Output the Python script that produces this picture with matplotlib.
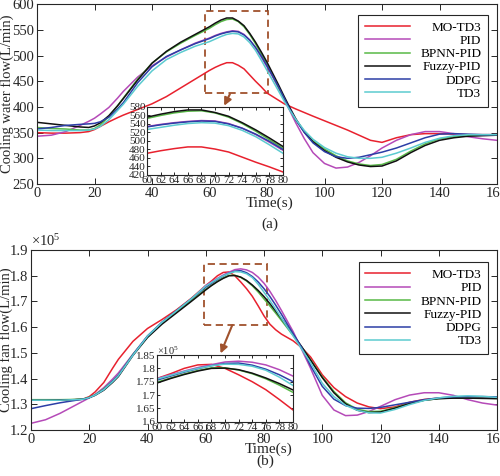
import numpy as np
import matplotlib.pyplot as plt
from matplotlib.patches import Rectangle
from matplotlib.ticker import MultipleLocator, FormatStrFormatter, FuncFormatter

plt.rcParams['font.family'] = ['Liberation Serif', 'DejaVu Serif']
plt.rcParams['mathtext.fontset'] = 'custom'
plt.rcParams['mathtext.rm'] = 'Liberation Serif'
plt.rcParams['mathtext.it'] = 'Liberation Serif:italic'

# time axis (s)
time = [0, 5, 10, 15, 18, 20, 22, 25, 28, 30, 35, 40, 45, 50, 55, 60, 62, 64, 66, 68,
        70, 72, 74, 76, 78, 80, 82, 84, 86, 88, 90, 93, 96, 100, 104, 108, 112, 116, 120,
        125, 130, 135, 140, 145, 150, 155, 160]

labels = ['MO-TD3', 'PID', 'BPNN-PID', 'Fuzzy-PID', 'DDPG', 'TD3']
colors = ['#e8212e', '#b54ab8', '#58b947', '#111111', '#2c3ea6', '#5ccbd0']

# (a) cooling water flow, L/min
water_mo_td3 = [350, 349, 349, 350, 352, 356, 362, 371, 379, 384, 395, 406, 420, 437, 454, 471, 477, 482, 486, 486,
                481, 474, 462, 450, 439, 427, 420, 413, 406, 401, 396, 389, 382, 373, 364, 355, 345, 335, 331,
                340, 346, 348, 348, 347, 346, 346, 346]
water_pid = [343, 345, 352, 364, 372, 378, 386, 399, 417, 430, 458, 480, 497, 511, 524, 534, 539, 543, 546, 548,
             547, 541, 530, 515, 497, 478, 458, 437, 414, 392, 369, 338, 311, 290, 281, 283, 292, 305, 320,
             335, 346, 352, 352, 348, 342, 338, 335]
water_bpnn = [360, 358, 357, 355, 355, 358, 365, 381, 402, 417, 454, 485, 507, 524, 539, 553, 560, 566, 570, 571,
              566, 556, 541, 523, 503, 483, 461, 438, 415, 394, 375, 352, 334, 318, 305, 295, 289, 286, 288,
              298, 314, 328, 338, 342, 344, 345, 345]
water_fuzzy = [370, 367, 364, 361, 360, 363, 369, 383, 402, 416, 452, 485, 508, 526, 541, 556, 563, 569, 573, 573,
               567, 558, 543, 526, 507, 487, 465, 443, 420, 398, 377, 351, 332, 315, 302, 293, 287, 284, 285,
               295, 311, 325, 335, 340, 343, 344, 345]
water_ddpg = [357, 360, 364, 366, 367, 368, 371, 380, 396, 408, 447, 478, 498, 511, 523, 533, 538, 542, 545, 547,
              546, 540, 530, 516, 499, 480, 460, 439, 417, 395, 375, 350, 330, 313, 303, 300, 302, 307, 312,
              320, 330, 340, 347, 348, 347, 346, 346]
water_td3 = [355, 354, 354, 354, 355, 357, 362, 375, 393, 405, 440, 470, 492, 506, 518, 527, 532, 537, 541, 543,
             542, 536, 525, 510, 491, 471, 451, 431, 411, 393, 376, 354, 337, 321, 310, 303, 300, 300, 302,
             310, 320, 331, 339, 344, 346, 346, 346]

# (b) cooling fan flow, x1e5 L/min
fan_mo_td3 = [1.316, 1.316, 1.316, 1.318, 1.321, 1.330, 1.348, 1.385, 1.440, 1.475, 1.545, 1.595, 1.630, 1.668,
              1.712, 1.762, 1.780, 1.800, 1.813, 1.815, 1.800, 1.776, 1.750, 1.720, 1.683, 1.644, 1.612, 1.590,
              1.573, 1.560, 1.547, 1.520, 1.484, 1.415, 1.365, 1.330, 1.305, 1.290, 1.283, 1.290, 1.308, 1.319,
              1.324, 1.325, 1.325, 1.325, 1.324]
fan_pid = [1.226, 1.240, 1.265, 1.295, 1.313, 1.325, 1.338, 1.365, 1.398, 1.422, 1.495, 1.565, 1.617, 1.662,
           1.708, 1.762, 1.776, 1.790, 1.803, 1.814, 1.824, 1.827, 1.823, 1.813, 1.795, 1.771, 1.740, 1.704,
           1.665, 1.624, 1.583, 1.512, 1.440, 1.335, 1.278, 1.256, 1.258, 1.272, 1.292, 1.318, 1.336, 1.345,
           1.345, 1.335, 1.318, 1.305, 1.297]
fan_bpnn = [1.318, 1.318, 1.318, 1.319, 1.321, 1.327, 1.337, 1.360, 1.390, 1.413, 1.494, 1.562, 1.616, 1.660,
            1.704, 1.748, 1.764, 1.779, 1.792, 1.802, 1.802, 1.794, 1.780, 1.761, 1.737, 1.710, 1.683, 1.655,
            1.626, 1.597, 1.568, 1.522, 1.473, 1.407, 1.350, 1.306, 1.281, 1.272, 1.273, 1.287, 1.304, 1.316,
            1.322, 1.325, 1.325, 1.324, 1.323]
fan_fuzzy = [1.316, 1.316, 1.317, 1.318, 1.320, 1.326, 1.335, 1.355, 1.385, 1.408, 1.490, 1.560, 1.612, 1.656,
             1.700, 1.745, 1.762, 1.777, 1.790, 1.800, 1.801, 1.795, 1.782, 1.764, 1.743, 1.719, 1.692, 1.663,
             1.633, 1.602, 1.571, 1.523, 1.472, 1.404, 1.345, 1.302, 1.277, 1.268, 1.270, 1.285, 1.303, 1.316,
             1.322, 1.324, 1.324, 1.323, 1.322]
fan_ddpg = [1.283, 1.295, 1.306, 1.315, 1.320, 1.326, 1.336, 1.358, 1.390, 1.413, 1.493, 1.566, 1.620, 1.665,
            1.710, 1.756, 1.771, 1.786, 1.799, 1.810, 1.818, 1.820, 1.812, 1.797, 1.776, 1.750, 1.720, 1.686,
            1.650, 1.612, 1.575, 1.520, 1.450, 1.370, 1.320, 1.295, 1.285, 1.284, 1.288, 1.298, 1.308, 1.318,
            1.325, 1.329, 1.330, 1.330, 1.329]
fan_td3 = [1.316, 1.316, 1.316, 1.318, 1.320, 1.326, 1.336, 1.357, 1.388, 1.411, 1.491, 1.565, 1.619, 1.664,
           1.710, 1.760, 1.774, 1.788, 1.800, 1.810, 1.816, 1.815, 1.808, 1.793, 1.767, 1.736, 1.704, 1.670,
           1.635, 1.600, 1.566, 1.514, 1.462, 1.382, 1.330, 1.296, 1.277, 1.267, 1.266, 1.280, 1.299, 1.315,
           1.325, 1.331, 1.333, 1.331, 1.327]

water = [water_mo_td3, water_pid, water_bpnn, water_fuzzy, water_ddpg, water_td3]
fan = [fan_mo_td3, fan_pid, fan_bpnn, fan_fuzzy, fan_ddpg, fan_td3]

INK = '#262626'
BROWN = '#a0522d'


def style_axes(ax, size, length=4, pad=2):
    for sp in ax.spines.values():
        sp.set_color(INK)
        sp.set_linewidth(0.8)
    ax.tick_params(direction='in', top=True, right=True, length=length, width=0.7,
                   colors=INK, labelsize=size, pad=pad)


def draw_lines(ax, series, lw=1.1):
    for y, lab, c in zip(series, labels, colors):
        ax.plot(time, y, color=c, lw=lw, label=lab)


def right_align_legend(fig, leg):
    # MATLAB-like legend: labels flush right
    renderer = fig.canvas.get_renderer()
    texts = leg.get_texts()
    widths = [t.get_window_extent(renderer).width for t in texts]
    for t, w in zip(texts, widths):
        t.set_position((max(widths) - w, 0))


fig = plt.figure(figsize=(5.0, 4.76), dpi=100)
ax_a = fig.add_axes([0.074, 0.6134, 0.92, 0.378])
ax_b = fig.add_axes([0.062, 0.0966, 0.932, 0.378])

# ---- (a) ----
draw_lines(ax_a, water)
ax_a.set_xlim(0, 160)
ax_a.set_ylim(250, 600)
ax_a.xaxis.set_major_locator(MultipleLocator(20))
ax_a.yaxis.set_major_locator(MultipleLocator(50))
style_axes(ax_a, 10.5)
ax_a.set_xlabel('Time(s)', fontsize=11, color=INK, va='top')
ax_a.xaxis.set_label_coords(0.505, -0.072)
ax_a.set_ylabel('Cooling water flow(L/min)', fontsize=10.5, color=INK)
ax_a.yaxis.set_label_coords(-0.05, 0.5)
ax_a.add_patch(Rectangle((58.4, 427), 21.8, 159, fill=False, ec=BROWN, lw=1.3, ls=(0, (4, 2.5))))
ax_a.annotate('', xy=(65.1, 402.3), xytext=(67.1, 425),
              arrowprops=dict(arrowstyle='-|>', color=BROWN, lw=1.5, mutation_scale=11,
                              shrinkA=0, shrinkB=0))
leg_a = ax_a.legend(loc='upper right', bbox_to_anchor=(0.98, 0.941), borderaxespad=0,
                    fontsize=9.5, handlelength=3.4, handletextpad=0.8, labelspacing=0.08,
                    borderpad=0.5, fancybox=False, framealpha=1, edgecolor=INK)
leg_a.get_frame().set_linewidth(0.8)
right_align_legend(fig, leg_a)

in_a = fig.add_axes([0.294, 0.6324, 0.272, 0.1429])
draw_lines(in_a, water)
in_a.set_xlim(60, 80)
in_a.set_ylim(420, 580)
in_a.xaxis.set_major_locator(MultipleLocator(2))
in_a.yaxis.set_major_locator(MultipleLocator(20))
style_axes(in_a, 8, length=2, pad=1)

# ---- (b) ----
draw_lines(ax_b, fan)
ax_b.set_xlim(0, 160)
ax_b.set_ylim(1.2, 1.9)
ax_b.xaxis.set_major_locator(MultipleLocator(20))
ax_b.yaxis.set_major_locator(MultipleLocator(0.1))
ax_b.yaxis.set_major_formatter(FormatStrFormatter('%.1f'))
style_axes(ax_b, 10.5)
ax_b.text(0.0, 1.005, r'$\times10^{5}$', transform=ax_b.transAxes, fontsize=10.5,
          color=INK, ha='left', va='bottom')
ax_b.set_xlabel('Time(s)', fontsize=11, color=INK, va='top')
ax_b.xaxis.set_label_coords(0.51, -0.072)
ax_b.set_ylabel('Cooling fan flow(L/min)', fontsize=10.5, color=INK)
ax_b.yaxis.set_label_coords(-0.038, 0.5)
ax_b.add_patch(Rectangle((59.4, 1.608), 21.7, 0.237, fill=False, ec=BROWN, lw=1.3, ls=(0, (4, 2.5))))
ax_b.annotate('', xy=(65.1, 1.498), xytext=(69.1, 1.608),
              arrowprops=dict(arrowstyle='-|>', color=BROWN, lw=1.5, mutation_scale=11,
                              shrinkA=0, shrinkB=0))
leg_b = ax_b.legend(loc='upper right', bbox_to_anchor=(0.981, 0.933), borderaxespad=0,
                    fontsize=9.5, handlelength=3.4, handletextpad=0.8, labelspacing=0.08,
                    borderpad=0.5, fancybox=False, framealpha=1, edgecolor=INK)
leg_b.get_frame().set_linewidth(0.8)
right_align_legend(fig, leg_b)

in_b = fig.add_axes([0.314, 0.1141, 0.272, 0.140])
draw_lines(in_b, fan)
in_b.set_xlim(60, 80)
in_b.set_ylim(1.6, 1.85)
in_b.xaxis.set_major_locator(MultipleLocator(2))
in_b.yaxis.set_major_locator(MultipleLocator(0.05))
in_b.yaxis.set_major_formatter(FuncFormatter(lambda v, p: '%g' % round(v, 2)))
style_axes(in_b, 8, length=2, pad=1)
in_b.text(0.0, 0.97, r'$\times10^{5}$', transform=in_b.transAxes, fontsize=7.5,
          color=INK, ha='left', va='bottom')

fig.text(0.54, 0.529, '(a)', fontsize=11, color=INK, ha='center', va='center')
fig.text(0.53, 0.0315, '(b)', fontsize=11, color=INK, ha='center', va='center')

fig.savefig('out.png', dpi=100)
